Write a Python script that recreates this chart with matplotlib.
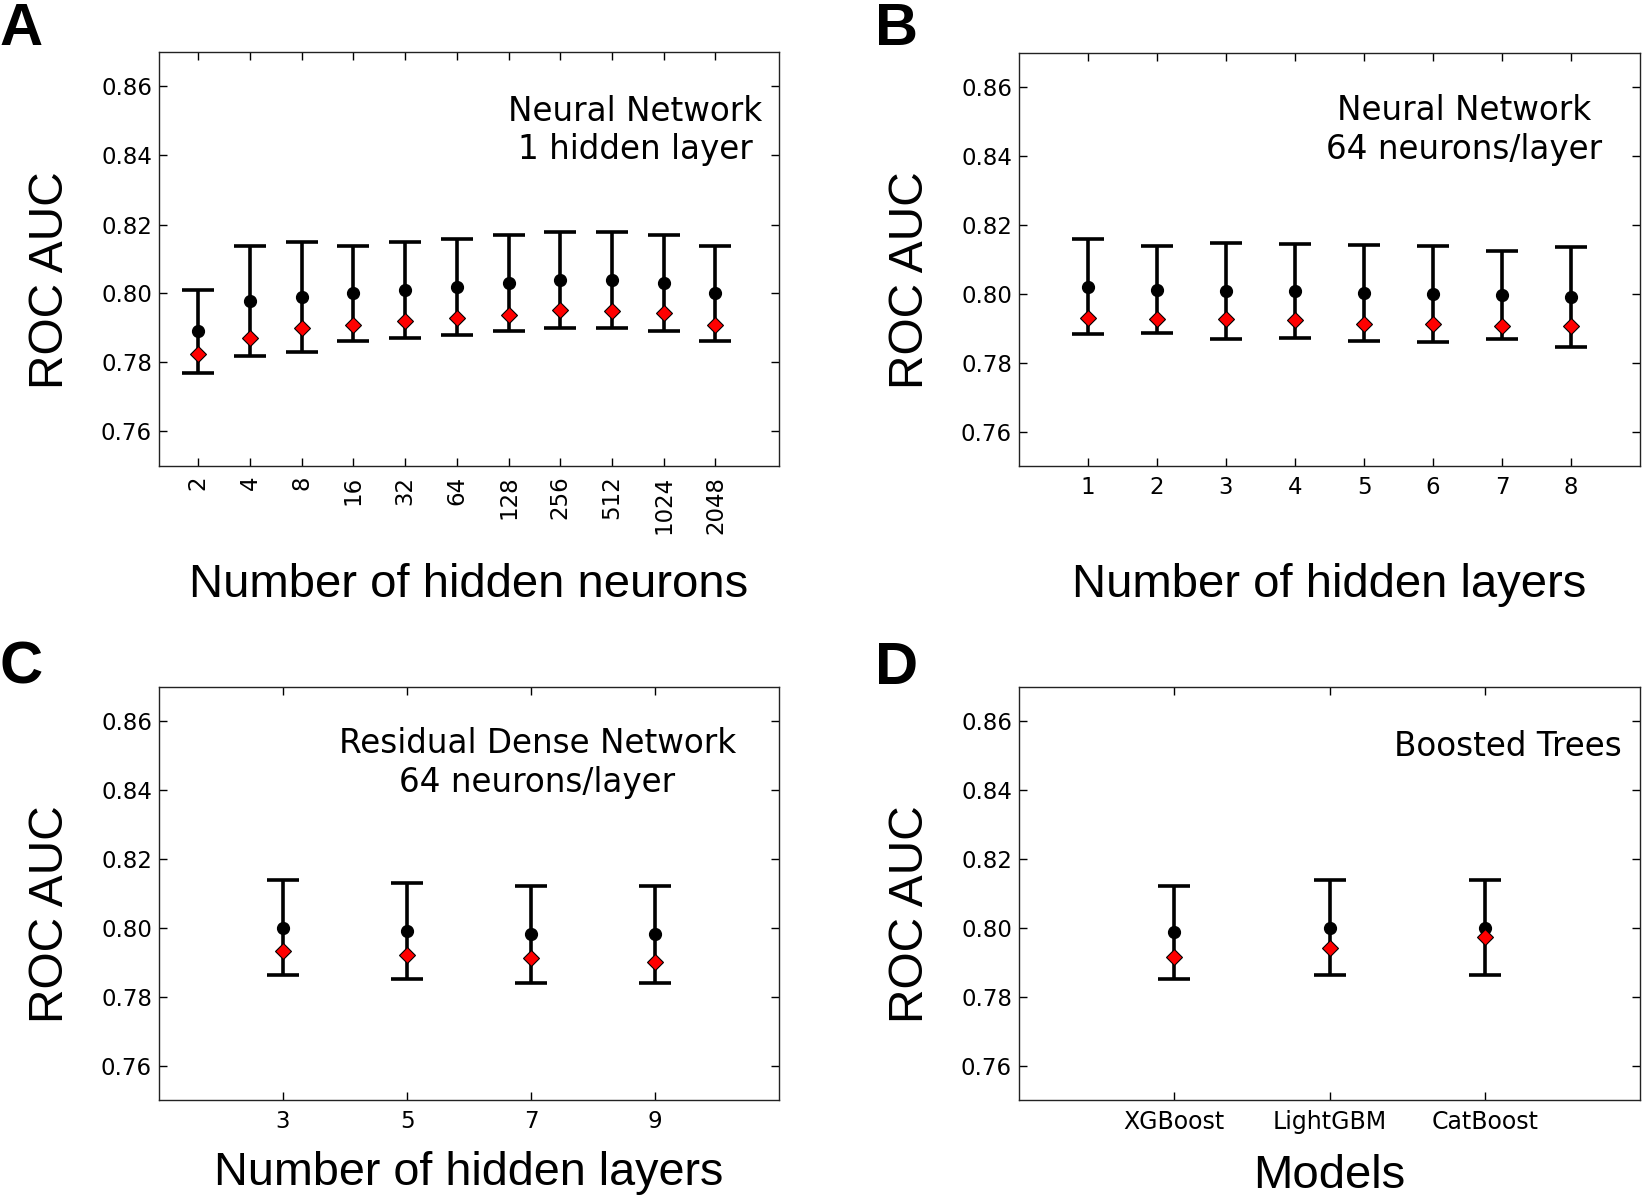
import matplotlib
matplotlib.use("Agg")
import matplotlib.pyplot as plt
import numpy as np

# ---------------- data ----------------
a_neurons = [2, 4, 8, 16, 32, 64, 128, 256, 512, 1024, 2048]
a_mean = [0.789, 0.7979, 0.7989, 0.800, 0.801, 0.802, 0.803, 0.804, 0.804, 0.803, 0.800]
a_err = [0.012, 0.0159, 0.016, 0.0139, 0.0139, 0.0139, 0.0139, 0.0139, 0.0139, 0.0139, 0.0139]
a_diamond = [0.7825, 0.787, 0.790, 0.7909, 0.7919, 0.793, 0.7939, 0.7952, 0.7949, 0.7943, 0.7909]

b_layers = [1, 2, 3, 4, 5, 6, 7, 8]
b_mean = [0.8021, 0.8012, 0.8008, 0.8008, 0.8002, 0.7999, 0.7998, 0.7991]
b_err = [0.0138, 0.0127, 0.0139, 0.0136, 0.0140, 0.0140, 0.0128, 0.0144]
b_diamond = [0.7929, 0.7926, 0.7926, 0.7923, 0.7912, 0.7914, 0.7906, 0.7906]

c_layers = [3, 5, 7, 9]
c_mean = [0.8001, 0.7991, 0.7982, 0.7982]
c_err = [0.0139, 0.0139, 0.0141, 0.0141]
c_diamond = [0.7932, 0.7922, 0.7912, 0.7901]

d_models = ["XGBoost", "LightGBM", "CatBoost"]
d_mean = [0.7987, 0.8001, 0.8001]
d_err = [0.0136, 0.0139, 0.0139]
d_diamond = [0.7916, 0.7943, 0.7974]

y_ticks = [0.76, 0.78, 0.80, 0.82, 0.84, 0.86]

# ---------------- style ----------------
W, H = 1642, 1197
fig = plt.figure(figsize=(W / 100, H / 100), dpi=100)

LABEL_FONT = "Liberation Sans"
TICK_FONT = "DejaVu Sans"


def make_ax(left_px, top_px, w_px, h_px):
    return fig.add_axes([left_px / W, 1 - (top_px + h_px) / H, w_px / W, h_px / H])


def style(ax, xlabel, xlabel_y, text, text_x, text_y, xtick_size=16.5, xlabel_size=34):
    ax.set_ylim(0.75, 0.87)
    ax.set_yticks(y_ticks)
    ax.set_yticklabels([f"{v:.2f}" for v in y_ticks])
    ax.tick_params(direction="in", top=True, right=True, length=6, width=1,
                   labelsize=16.5, colors="black")
    ax.tick_params(axis="x", pad=7, labelsize=xtick_size)
    ax.tick_params(axis="y", pad=5)
    for lab in ax.get_xticklabels() + ax.get_yticklabels():
        lab.set_fontfamily(TICK_FONT)
    for s in ax.spines.values():
        s.set_linewidth(1.0)
        s.set_color("#222222")
    ax.set_ylabel("ROC AUC", fontsize=34.5, family=LABEL_FONT)
    ax.yaxis.label.set_va("baseline")
    ax.yaxis.set_label_coords(-0.155, 0.449)
    ax.set_xlabel(xlabel, fontsize=xlabel_size, family=LABEL_FONT)
    ax.xaxis.label.set_va("baseline")
    ax.xaxis.set_label_coords(0.5, xlabel_y)
    ax.text(text_x, text_y, text, transform=ax.transAxes, ha="center", va="top",
            multialignment="center", fontsize=23.5, family=TICK_FONT, linespacing=1.2)


def draw(ax, x, mean, err, diamond):
    ax.errorbar(x, mean, yerr=err, fmt="o", color="black", ms=8.5, elinewidth=2.6,
                capsize=11.5, capthick=2.6, zorder=2)
    ax.plot(x, diamond, linestyle="none", marker="D", ms=8, mfc="red", mec="black",
            mew=0.8, zorder=3)


# Panel A
axA = make_ax(159, 52, 620, 414)
xa = np.log2(a_neurons)
draw(axA, xa, a_mean, a_err, a_diamond)
axA.set_xlim(0.24, 12.23)
axA.set_xticks(xa)
axA.set_xticklabels([str(n) for n in a_neurons], rotation=90, va="top")
style(axA, "Number of hidden neurons", -0.316, "Neural Network\n1 hidden layer", 0.768, 0.897)

# Panel B
axB = make_ax(1019, 53, 621, 413)
draw(axB, b_layers, b_mean, b_err, b_diamond)
axB.set_xlim(0, 9)
axB.set_xticks(b_layers)
axB.set_xticklabels([str(n) for n in b_layers])
style(axB, "Number of hidden layers", -0.316, "Neural Network\n64 neurons/layer", 0.716, 0.90)

# Panel C
axC = make_ax(159, 687, 620, 413)
draw(axC, c_layers, c_mean, c_err, c_diamond)
axC.set_xlim(1, 11)
axC.set_xticks(c_layers)
axC.set_xticklabels([str(n) for n in c_layers])
style(axC, "Number of hidden layers", -0.206, "Residual Dense Network\n64 neurons/layer", 0.61, 0.902,
      xlabel_size=33.7)

# Panel D
axD = make_ax(1019, 687, 621, 413)
xd = np.arange(1, len(d_models) + 1)
draw(axD, xd, d_mean, d_err, d_diamond)
axD.set_xlim(0, 4)
axD.set_xticks(xd)
axD.set_xticklabels(d_models)
style(axD, "Models", -0.213, "Boosted Trees", 0.788, 0.895, xtick_size=17)

# Panel letters
for letter, (px, py) in zip("ABCD", [(0, 2), (875, 2), (0, 641), (875, 641)]):
    fig.text(px / W, 1 - py / H, letter, fontsize=43, fontweight="bold",
             family=LABEL_FONT, ha="left", va="top")

fig.savefig("out.png", dpi=100)
